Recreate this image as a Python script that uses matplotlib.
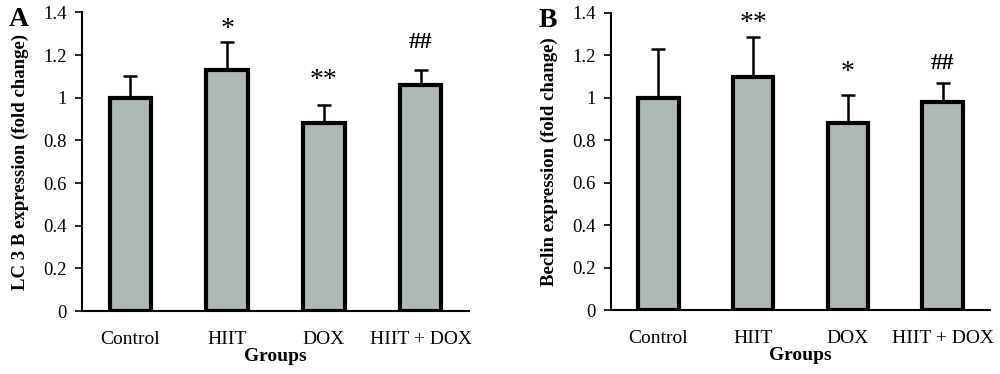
import numpy as np
import matplotlib
matplotlib.use("Agg")
import matplotlib.pyplot as plt

# Data
groups = ["Control", "HIIT", "DOX", "HIIT + DOX"]

lc3b_mean = [1.00, 1.13, 0.88, 1.06]
lc3b_err = [0.10, 0.13, 0.087, 0.07]
lc3b_marks = ["", "*", "**", "##"]
lc3b_mark_y = [None, 1.32, 1.08, 1.26]

beclin_mean = [1.00, 1.10, 0.88, 0.98]
beclin_err = [0.228, 0.187, 0.133, 0.088]
beclin_marks = ["", "**", "*", "##"]
beclin_mark_y = [None, 1.35, 1.12, 1.16]

plt.rcParams["font.family"] = ["Liberation Serif", "DejaVu Serif"]

fig = plt.figure(figsize=(10, 3.74), dpi=100)
ax_a = fig.add_axes([0.082, 0.168, 0.387, 0.799])
ax_b = fig.add_axes([0.611, 0.170, 0.379, 0.796])

panels = [
    (ax_a, "A", lc3b_mean, lc3b_err, lc3b_marks, lc3b_mark_y, "LC 3 B expression (fold change)"),
    (ax_b, "B", beclin_mean, beclin_err, beclin_marks, beclin_mark_y, "Beclin expression (fold change)"),
]

x = np.arange(len(groups))

for ax, letter, mean, err, marks, mark_y, ylabel in panels:
    ax.errorbar(x, mean, yerr=[np.zeros(len(err)), err], fmt="none",
                ecolor="black", elinewidth=1.8, capsize=5, capthick=1.8, zorder=1)
    ax.bar(x, mean, width=0.43, color="#aeb8b6", edgecolor="black",
           linewidth=3, zorder=2)

    for xi, m, my in zip(x, marks, mark_y):
        if m:
            if "#" in m:
                ax.text(xi, my, m, ha="center", va="center", fontsize=17,
                        fontweight="bold")
            else:
                ax.text(xi, my, m, ha="center", va="center", fontsize=20)

    ax.set_xlim(-0.5, 3.5)
    ax.set_ylim(0, 1.4)
    ax.set_yticks(np.arange(0, 1.41, 0.2))
    ax.set_yticklabels(["0", "0.2", "0.4", "0.6", "0.8", "1", "1.2", "1.4"])
    ax.set_xticks(x)
    ax.set_xticklabels(groups)
    ax.tick_params(axis="x", length=0, pad=14, labelsize=14)
    ax.tick_params(axis="y", length=5, width=1.2, labelsize=13.5, pad=6)

    ax.spines["top"].set_visible(False)
    ax.spines["right"].set_visible(False)
    ax.spines["left"].set_linewidth(1.5)
    ax.spines["bottom"].set_linewidth(1.5)

    ax.set_xlabel("Groups", fontsize=14, fontweight="bold", labelpad=0)
    ax.set_ylabel(ylabel, fontsize=13.5, fontweight="bold", labelpad=10)

    ax.text(-0.19, 0.975, letter, transform=ax.transAxes, fontsize=20,
            fontweight="bold", ha="left", va="center")

fig.savefig("out.png", dpi=100, facecolor="white")
